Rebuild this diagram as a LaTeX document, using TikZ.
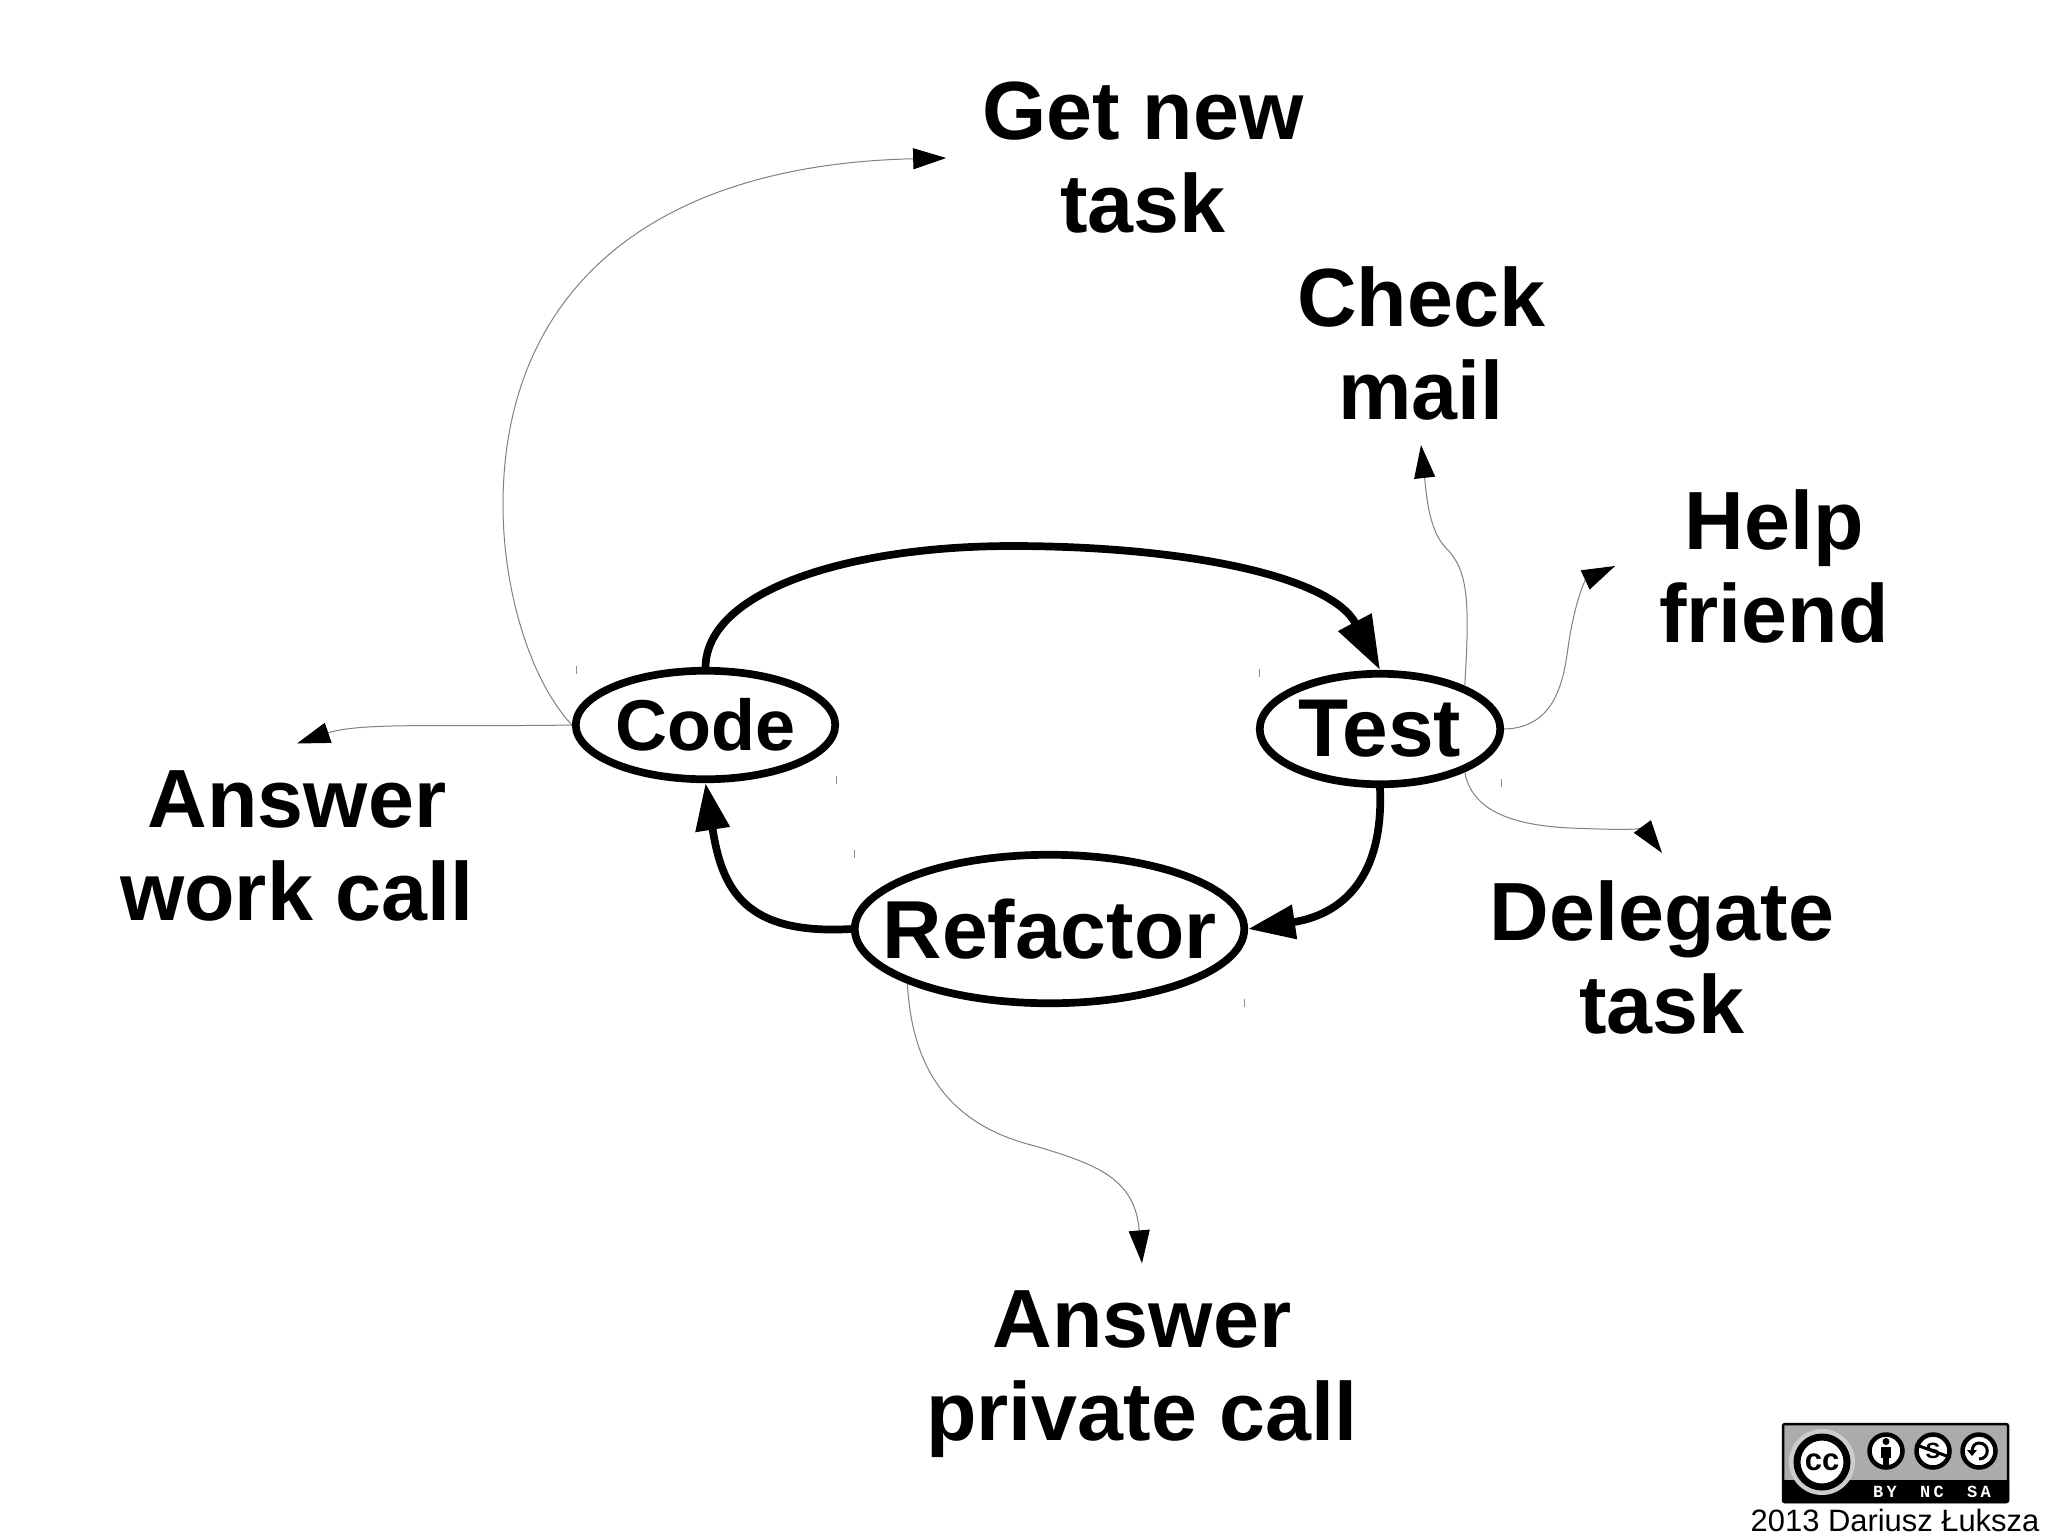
\documentclass[tikz,border=0pt]{standalone}
\usepackage{fontspec}
\setmainfont{Liberation Sans}
\setmonofont{Liberation Mono}
\usetikzlibrary{arrows.meta,shapes.geometric}
\tikzset{
  activity/.style={draw,ellipse,line width=7.7pt,inner sep=0pt},
  task/.style={font=\fontsize{82.6}{93}\selectfont\bfseries,align=center,inner xsep=37pt,inner ysep=27pt},
  loopline/.style={line width=7.7pt,-{Triangle[length=47pt,width=33pt]}},
  sideline/.style={line width=1pt,draw=black!50,-{Triangle[length=33pt,width=21pt,fill=black,color=black]}},
  tick/.style={line width=1pt,draw=black!45},
  badgeicon/.style={circle,draw=black,line width=4.5pt,fill=white,minimum size=33pt,inner sep=0pt},
}
\begin{document}
\begin{tikzpicture}[x=1pt,y=-1pt]
\useasboundingbox (0,0) rectangle (2048,1535);
\node[activity,minimum width=259.5pt,minimum height=108.5pt,label={[font=\fontsize{72}{80}\selectfont\bfseries]center:Code}] (code) at (705.5,725) {};
\node[activity,minimum width=240.5pt,minimum height=110.5pt,label={[font=\fontsize{82}{90}\selectfont\bfseries]center:Test}] (test) at (1380,729) {};
\node[activity,minimum width=389.5pt,minimum height=148.5pt,label={[font=\fontsize{82.3}{90}\selectfont\bfseries]center:Refactor}] (refactor) at (1049.5,929) {};
\node[task,inner xsep=36pt] (getnew) at (1143,158) {Get new\\task};
\node[task,inner ysep=25pt] (checkmail) at (1421,343) {Check\\mail};
\node[task,inner xsep=44pt] (helpfriend) at (1774,566) {Help\\friend};
\node[task] (delegate) at (1662,957) {Delegate\\task};
\node[task] (workcall) at (297,846) {Answer\\work call};
\node[task] (privatecall) at (1142,1374) {Answer\\private call};
\draw[loopline,-{Triangle[length=54pt,width=36pt]}] (code.north) .. controls (707,590) and (850,546) .. (1012,546) .. controls (1180,546) and (1330,575) .. (test.north);
\draw[loopline] (test.south) .. controls (1384,880) and (1340,915) .. (refactor.east);
\draw[loopline] (refactor.west) .. controls (745,935) and (722,890) .. (code.south);
\draw[sideline] (code.west) .. controls (530,680) and (503,590) .. (503,505) .. controls (503,300) and (640,165) .. (getnew.west);
\draw[sideline] (code.west) .. controls (450,727) and (360,722) .. (workcall.north);
\draw[sideline] (test.27) .. controls (1470,600) and (1468,570) .. (1446,548) .. controls (1428,530) and (1426,490) .. (checkmail.south);
\draw[sideline] (test.east) .. controls (1565,728) and (1565,660) .. (1570,635) .. controls (1576,600) and (1585,580) .. (helpfriend.west);
\draw[sideline] (test.-27) .. controls (1472,810) and (1510,825) .. (1570,828) .. controls (1620,830) and (1645,830) .. (delegate.north);
\draw[sideline] (refactor.201) .. controls (912,1070) and (950,1125) .. (1035,1146) .. controls (1100,1165) and (1135,1180) .. (privatecall.north);
\foreach \x/\y in {576/670,836/780,854/854,1244/1003,1259/673,1501/783} {
  \draw[tick] (\x,\y-4) -- (\x,\y+4);
}
\draw[fill=black!33,line width=2.5pt,rounded corners=2pt] (1783,1424) rectangle (2008,1502);
\fill[black,rounded corners=2pt] (1782,1480) rectangle (2009,1503);
\node[circle,fill=black!20,minimum size=66pt,inner sep=0pt] (ccring) at (1822,1462) {};
\node[circle,draw=black,line width=7pt,fill=white,minimum size=50pt,inner sep=0pt,label={[font=\fontsize{31}{31}\selectfont\bfseries]center:cc}] (cc) at (1822,1462) {};
\node[badgeicon] (by) at (1886,1451) {};
\node[badgeicon,label={[font=\fontsize{22}{22}\selectfont\bfseries]center:S}] (nc) at (1933,1451) {};
\node[badgeicon] (sa) at (1979,1451) {};
\fill (1886,1441.5) circle (3.5pt);
\fill (1881,1447) rectangle (1891,1458);
\fill (1883,1458) rectangle (1889,1465);
\draw[line width=3pt] (nc.160) -- (nc.-20);
\draw[line width=3pt] (1972,1452) .. controls (1972,1446) and (1975,1443) .. (1979,1443) .. controls (1990,1443) and (1990,1459) .. (1979,1459);
\fill (1967,1450) -- (1977,1450) -- (1972,1456) -- cycle;
\foreach \x/\t in {1885/BY,1932/NC,1979/SA} {
  \node[text=white,font=\fontsize{17}{17}\selectfont\ttfamily\bfseries\addfontfeature{LetterSpace=20}] (l\t) at (\x,1491.5) {\t};
}
\node[font=\fontsize{30.9}{34}\selectfont,anchor=base,inner sep=0pt] (credit) at (1895,1531) {2013 Dariusz Łuksza};
\end{tikzpicture}
\end{document}
